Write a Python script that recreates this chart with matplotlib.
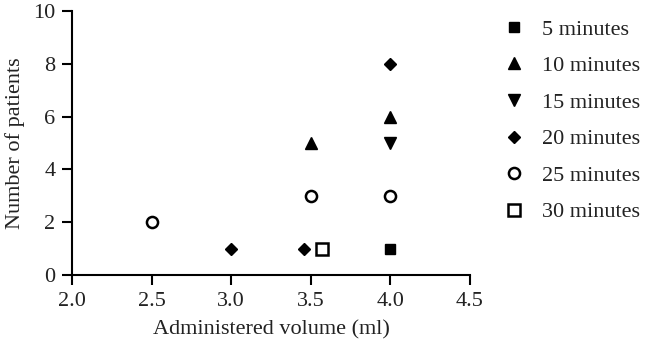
import matplotlib
matplotlib.use('Agg')
import matplotlib.pyplot as plt

plt.rcParams['font.family'] = ['Liberation Serif', 'DejaVu Serif']

# data: administered volume (ml) vs number of patients, per onset time
labels = ['5 minutes', '10 minutes', '15 minutes', '20 minutes', '25 minutes', '30 minutes']
vol_5 = [4.0]
n_5 = [1]
vol_10 = [3.5, 4.0]
n_10 = [5, 6]
vol_15 = [4.0]
n_15 = [5]
vol_20 = [3.0, 3.46, 4.0]
n_20 = [1, 1, 8]
vol_25 = [2.5, 3.5, 4.0]
n_25 = [2, 3, 3]
vol_30 = [3.57]
n_30 = [1]

series = [
    (vol_5, n_5, 's', 'black', 7),
    (vol_10, n_10, '^', 'black', 8),
    (vol_15, n_15, 'v', 'black', 8),
    (vol_20, n_20, 'D', 'black', 6),
    (vol_25, n_25, 'o', 'white', 8),
    (vol_30, n_30, 's', 'white', 8),
]

fig = plt.figure(figsize=(6.45, 3.5), dpi=100)
ax = fig.add_axes([72 / 645, 1 - 275 / 350, 398 / 645, 264 / 350])

for (x, y, m, fc, ms), lab in zip(series, labels):
    ax.plot(x, y, linestyle='none', marker=m, markersize=ms, markerfacecolor=fc,
            markeredgecolor='black', markeredgewidth=1.8 if fc == 'white' else 1,
            label=lab, clip_on=False)

ax.set_xlim(2.0, 4.5)
ax.set_ylim(0, 10)
ax.set_xticks([2.0, 2.5, 3.0, 3.5, 4.0, 4.5])
ax.set_xticklabels(['2.0', '2.5', '3.0', '3.5', '4.0', '4.5'])
ax.set_yticks([0, 2, 4, 6, 8, 10])
ax.spines['top'].set_visible(False)
ax.spines['right'].set_visible(False)
ax.spines['left'].set_linewidth(1.5)
ax.spines['bottom'].set_linewidth(1.5)
ax.tick_params(direction='out', length=7, width=1.5, labelsize=16, colors='black', pad=5)
for t in ax.get_xticklabels() + ax.get_yticklabels():
    t.set_color('#222222')

ax.set_xlabel('Administered volume (ml)', fontsize=16, color='#222222', labelpad=7)
ax.set_ylabel('Number of patients', fontsize=16, color='#222222', labelpad=6)

ax.legend(loc='upper left', bbox_to_anchor=(1.032, 1.045), frameon=False,
          fontsize=16, labelspacing=0.72, handletextpad=0.75, handlelength=1.0,
          labelcolor='#222222')

fig.savefig('out.png', dpi=100)
